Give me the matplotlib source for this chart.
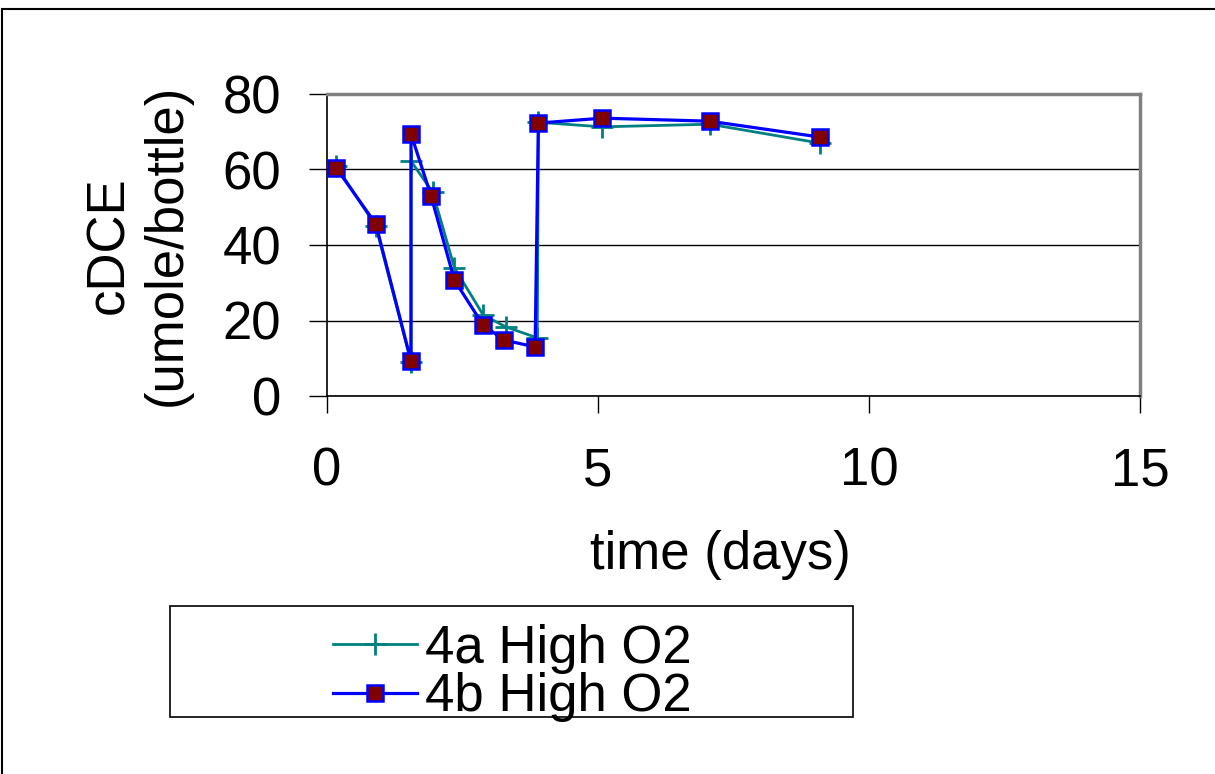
import matplotlib
matplotlib.use("Agg")
import matplotlib.pyplot as plt
from matplotlib.patches import Rectangle

plt.rcParams['font.family'] = ['Liberation Sans', 'DejaVu Sans']

# cDCE in bottle, umole/bottle vs days
t_4a = [0.17, 0.90, 1.55, 1.55, 1.95, 2.35, 2.88, 3.30, 3.88, 3.90, 5.08, 7.06, 9.09]
c_4a = [61.0, 45.0, 9.0, 62.2, 54.0, 34.0, 21.5, 18.3, 15.4, 72.5, 71.3, 72.0, 67.0]
t_4b = [0.17, 0.90, 1.55, 1.55, 1.92, 2.35, 2.88, 3.27, 3.84, 3.90, 5.08, 7.06, 9.09]
c_4b = [60.4, 45.6, 9.3, 69.4, 53.0, 30.7, 18.8, 14.8, 13.0, 72.3, 73.6, 72.8, 68.6]
labels = ["4a High O2", "4b High O2"]
xticks = [0, 5, 10, 15]
yticks = [0, 20, 40, 60, 80]

W, H = 1215, 774
fig = plt.figure(figsize=(W/100, H/100), dpi=100)
ax = fig.add_axes([327/W, 1-396/H, 813/W, 302/H])

# outer frame of the chart area
fig.patches.append(Rectangle((2/W, -0.1), 1.2, 1 - 9/H + 0.1,
                             transform=fig.transFigure, fill=False,
                             edgecolor='black', linewidth=1.5))
# legend box
fig.patches.append(Rectangle((170/W, 1-717/H), 683/W, 111/H,
                             transform=fig.transFigure, fill=False,
                             edgecolor='black', linewidth=1.2))

ax.plot(t_4a, c_4a, color='#008080', lw=2.0, marker='+', ms=16, mew=2.0,
        label=labels[0], zorder=3)
ax.plot(t_4b, c_4b, color='#0000ff', lw=2.3, marker='s', ms=11,
        mfc='#800000', mec='#0000ff', mew=1.8, label=labels[1], zorder=4)

ax.set_xlim(0, 15)
ax.set_ylim(0, 80)
ax.set_xticks(xticks)
ax.set_yticks(yticks)
ax.tick_params(axis='both', labelsize=38, direction='out', length=13, width=1)
ax.tick_params(axis='y', pad=20)
ax.tick_params(axis='x', length=12, pad=24)
ax.yaxis.grid(True, color='black', lw=1)
ax.set_axisbelow(True)

for s in ['top', 'right']:
    ax.spines[s].set_color('#808080')
    ax.spines[s].set_linewidth(2.5)
ax.spines['left'].set_linewidth(1.2)
ax.spines['bottom'].set_linewidth(1.2)

ax.set_xlabel("time (days)", fontsize=38)
ax.xaxis.label.set_va('center')
ax.xaxis.set_label_coords((720-327)/813, (396-555)/302)
ax.set_ylabel("cDCE\n(umole/bottle)", fontsize=38, linespacing=1.2)
ax.yaxis.label.set_va('center')
ax.yaxis.set_label_coords((138-327)/813, 0.5)

leg = ax.legend(loc='center', bbox_to_anchor=((512-327)/813, (396-673)/302),
                fontsize=38, frameon=False,
                labelspacing=-0.02, handlelength=1.6, handletextpad=0.15,
                borderpad=0.0, borderaxespad=0)

fig.savefig("out.png", dpi=100)
